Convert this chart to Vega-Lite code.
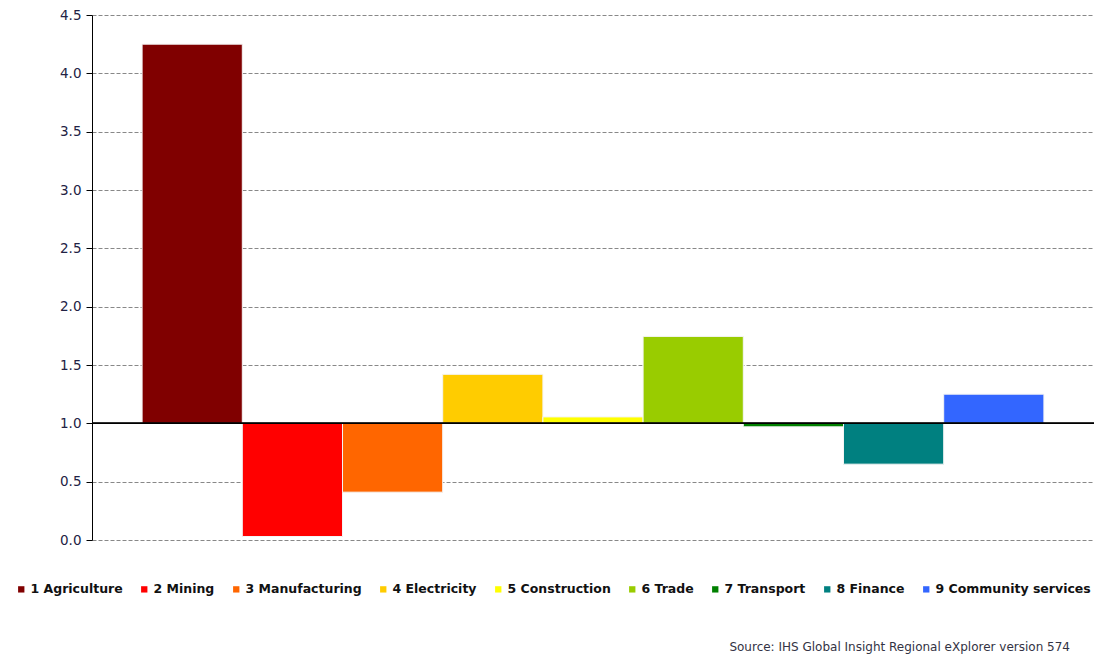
{
  "$schema": "https://vega.github.io/schema/vega-lite/v6.json",
  "width": 1002,
  "height": 525,
  "autosize": "none",
  "padding": {"left": 92, "top": 15, "right": 1, "bottom": 117},
  "background": "white",
  "config": {
    "view": {"stroke": null},
    "font": "DejaVu Sans"
  },
  "title": {
    "text": "Source: IHS Global Insight Regional eXplorer version 574",
    "orient": "bottom",
    "anchor": "end",
    "frame": "group",
    "offset": 46,
    "dx": -24,
    "fontSize": 12,
    "fontWeight": "normal",
    "color": "#333344",
    "font": "DejaVu Sans"
  },
  "data": {
    "values": [
      {"sector": "1 Agriculture", "value": 4.25},
      {"sector": "2 Mining", "value": 0.03},
      {"sector": "3 Manufacturing", "value": 0.41},
      {"sector": "4 Electricity", "value": 1.42},
      {"sector": "5 Construction", "value": 1.055},
      {"sector": "6 Trade", "value": 1.745},
      {"sector": "7 Transport", "value": 0.97},
      {"sector": "8 Finance", "value": 0.65},
      {"sector": "9 Community services", "value": 1.25}
    ]
  },
  "layer": [
    {
      "mark": {"type": "bar", "stroke": "#f4f4f4", "strokeWidth": 1},
      "encoding": {
        "x": {
          "field": "sector",
          "type": "nominal",
          "sort": null,
          "scale": {"paddingInner": 0, "paddingOuter": 0.5},
          "axis": null
        },
        "y": {
          "field": "value",
          "type": "quantitative",
          "scale": {"domain": [0, 4.5], "nice": false, "zero": true},
          "axis": {
            "values": [0, 0.5, 1, 1.5, 2, 2.5, 3, 3.5, 4, 4.5],
            "format": ".1f",
            "title": null,
            "labelFont": "DejaVu Sans",
            "labelFontSize": 13.5,
            "labelColor": "#222244",
            "labelPadding": 5,
            "tickColor": "#000000",
            "tickSize": 6,
            "domainColor": "#000000",
            "domainWidth": 1,
            "grid": true,
            "gridColor": "#888888",
            "gridDash": [4, 2],
            "gridWidth": 1
          }
        },
        "y2": {"datum": 1},
        "color": {
          "field": "sector",
          "type": "nominal",
          "sort": null,
          "scale": {
            "domain": ["1 Agriculture", "2 Mining", "3 Manufacturing", "4 Electricity", "5 Construction", "6 Trade", "7 Transport", "8 Finance", "9 Community services"],
            "range": ["#800000", "#ff0000", "#ff6600", "#ffcc00", "#ffff00", "#99cc00", "#008000", "#008080", "#3366ff"]
          },
          "legend": {
            "title": null,
            "orient": "none",
            "direction": "horizontal",
            "columns": 9,
            "legendX": -77,
            "legendY": 568,
            "symbolType": "square",
            "symbolSize": 40,
            "symbolStrokeWidth": 0,
            "symbolOffset": 0,
            "labelFont": "DejaVu Sans",
            "labelFontSize": 12.5,
            "labelFontWeight": "bold",
            "labelColor": "#111111",
            "labelOffset": 3,
            "columnPadding": 15,
            "labelLimit": 300
          }
        }
      }
    },
    {
      "mark": {"type": "rule", "color": "#000000", "strokeWidth": 1},
      "encoding": {"y": {"datum": 1}}
    }
  ]
}
